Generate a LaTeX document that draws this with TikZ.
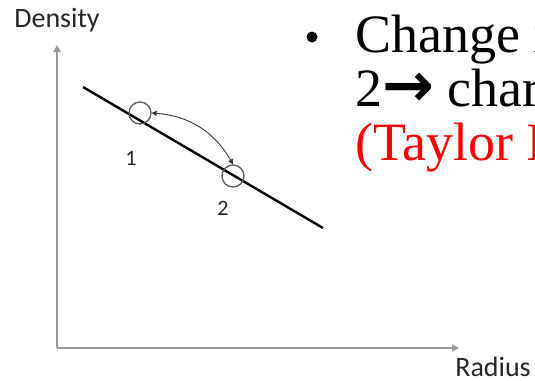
\documentclass[tikz,border=0pt]{standalone}
\usepackage{fontspec}
\setmainfont{Liberation Serif}
\newfontfamily\labfont{Carlito}
\newfontfamily\arrfont{DejaVu Sans}
\usetikzlibrary{arrows.meta}
\tikzset{
  axis/.style={draw=black!40, line width=2.6pt, -{Triangle[length=7pt,width=7pt]}},
  axlab/.style={font=\labfont\fontsize{28}{28}\selectfont, text=black!85, inner sep=0pt},
  ptlab/.style={font=\labfont\fontsize{22}{22}\selectfont, text=black!85, inner sep=0pt},
  ring/.style={circle, draw=black!65, line width=1.3pt, minimum size=22pt, inner sep=0pt},
  bul/.style={font=\fontsize{54}{54}\selectfont, inner sep=0pt, anchor=base west}
}
\begin{document}
\begin{tikzpicture}[x=1pt,y=-1pt]
\useasboundingbox (0,0) rectangle (535,380);
\clip (0,0) rectangle (535,380);
% axes
\coordinate (origin) at (57,348);
\coordinate (ytip) at (57,45);
\coordinate (xtip) at (459,348);
\draw[axis] (origin) -- (ytip);
\draw[axis] (origin) -- (xtip);
\node[axlab] (dens) at (57,20) {Density};
\node[axlab] (rad) at (493,367) {Radius};
% line
\coordinate (la) at (83,87);
\coordinate (lb) at (323,228);
\draw[line width=2.4pt] (la) -- (lb);
% circles
\node[ring] (c1) at (140,113) {};
\node[ring] (c2) at (233,176) {};
\draw[black!80, line width=0.9pt, {Triangle[length=5pt,width=5pt]}-{Triangle[length=5pt,width=5pt]}]
  (c1.east) to[bend left=28] (c2.north);
\node[ptlab] (n1) at (131,158) {1};
\node[ptlab] (n2) at (223,208) {2};
% text
\node[circle, fill=black, minimum size=11pt, inner sep=0pt] (bullet) at (312,37) {};
\node[bul] (t1) at (355,52) {Change i};
\node[bul] (t2) at (355,106) {2{\arrfont\bfseries\fontsize{62}{62}\selectfont →} char};
\node[bul, text=red] (t3) at (355,160) {(Taylor I};
\end{tikzpicture}
\end{document}
